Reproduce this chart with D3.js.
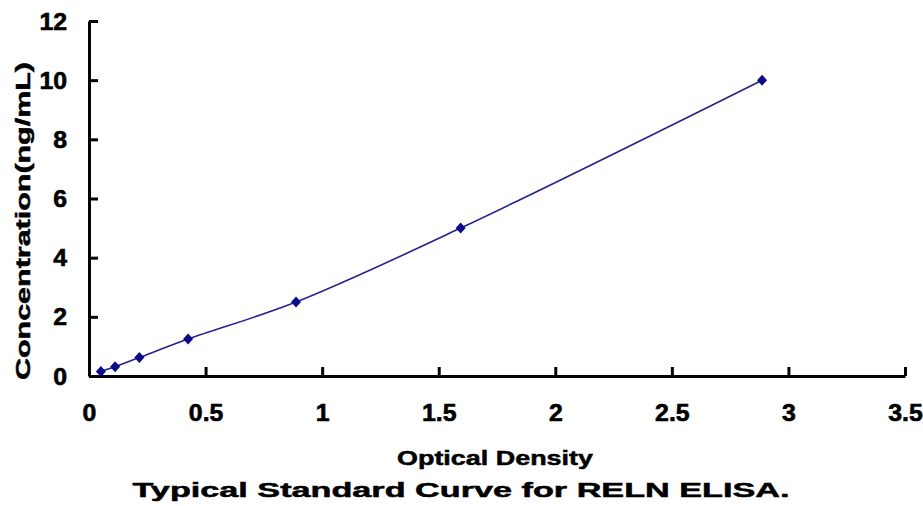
<!DOCTYPE html>
<html>
<head>
<meta charset="utf-8">
<script src="https://cdn.jsdelivr.net/npm/d3@7.9.0/dist/d3.min.js"></script>
<style>
  body { margin: 0; background: #fff; }
</style>
</head>
<body>
<svg width="923" height="506"></svg>
<script>
// standard curve points
const od = [0.051, 0.112, 0.216, 0.425, 0.888, 1.594, 2.887];
const conc = [0.156, 0.312, 0.625, 1.25, 2.5, 5, 10];
const xTicks = [0, 0.5, 1, 1.5, 2, 2.5, 3, 3.5];
const yTicks = [0, 2, 4, 6, 8, 10, 12];

const FONT = '"Liberation Sans", Arial, Helvetica, sans-serif';
const svg = d3.select('svg');

let x = d3.scaleLinear().domain([0, 3.5]).range([89, 905]);
let y = d3.scaleLinear().domain([0, 12]).range([376, 21]);

let points = od.map((d, i) => ({ x: d, y: conc[i] }));

// axes, ticks pointing inward
let xAxis = d3.axisBottom(x).tickValues(xTicks).tickSizeInner(-9).tickSizeOuter(0)
    .tickFormat(d3.format('~g')).tickPadding(0);
let yAxis = d3.axisLeft(y).tickValues(yTicks).tickSizeInner(-9).tickSizeOuter(0)
    .tickPadding(0);

let gx = svg.append('g').attr('transform', 'translate(0,376)').call(xAxis);
let gy = svg.append('g').attr('transform', 'translate(89,0)').call(yAxis);

[gx, gy].forEach((g) => {
    g.attr('font-family', FONT).attr('font-size', 23).attr('font-weight', 'bold');
    g.select('.domain').attr('stroke', '#000').attr('stroke-width', 3);
    g.selectAll('.tick line').attr('stroke', '#000').attr('stroke-width', 3);
    g.selectAll('.tick text').attr('fill', '#000').attr('dy', null)
        .attr('stroke', '#000').attr('stroke-width', 0.6);
});
// tick labels, slightly wide like the original
gx.selectAll('.tick text')
    .attr('x', null).attr('y', null)
    .attr('transform', 'translate(0,45) scale(1.08,1)');
gy.selectAll('.tick text')
    .attr('x', null)
    .attr('transform', 'translate(-22,8) scale(1.08,1)');

// smoothed line
let line = d3.line().x((d) => x(d.x)).y((d) => y(d.y)).curve(d3.curveCatmullRom.alpha(0.5));
svg.append('path')
    .datum(points)
    .attr('d', line)
    .attr('fill', 'none')
    .attr('stroke', '#23238c')
    .attr('stroke-width', 1.6);

// diamond markers
svg.selectAll('.pt')
    .data(points)
    .enter()
    .append('path')
    .attr('class', 'pt')
    .attr('d', 'M0,-5.5L5,0L0,5.5L-5,0Z')
    .attr('transform', (d) => `translate(${x(d.x)},${y(d.y)})`)
    .attr('fill', '#0a0a8a');

// titles
let titles = svg.append('g').attr('font-family', FONT).attr('font-weight', 'bold')
    .attr('fill', '#000').attr('stroke', '#000').attr('stroke-width', 0.5);

titles.append('text')
    .attr('x', 495).attr('y', 465)
    .attr('text-anchor', 'middle')
    .attr('font-size', 21)
    .attr('textLength', 196)
    .attr('lengthAdjust', 'spacingAndGlyphs')
    .text('Optical Density');

titles.append('text')
    .attr('x', 461).attr('y', 497)
    .attr('text-anchor', 'middle')
    .attr('font-size', 21)
    .attr('textLength', 657)
    .attr('lengthAdjust', 'spacingAndGlyphs')
    .text('Typical Standard Curve for RELN ELISA.');

titles.append('text')
    .attr('transform', 'translate(30,221) rotate(-90)')
    .attr('text-anchor', 'middle')
    .attr('font-size', 21)
    .attr('textLength', 318)
    .attr('lengthAdjust', 'spacingAndGlyphs')
    .text('Concentration(ng/mL)');
</script>
</body>
</html>
